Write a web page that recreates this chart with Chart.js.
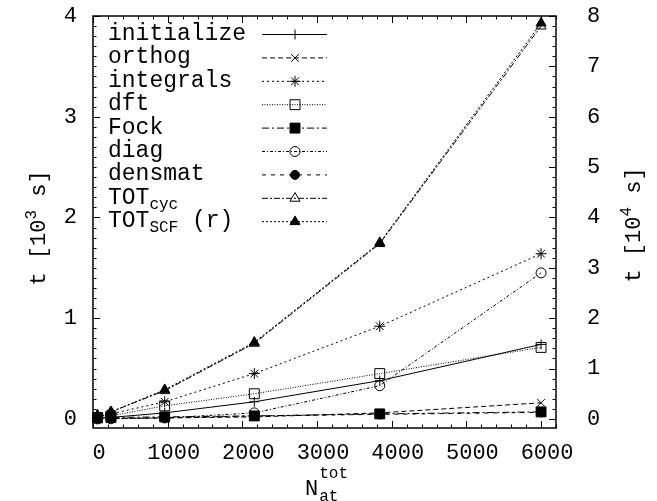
<!DOCTYPE html>
<html>
<head>
<meta charset="utf-8">
<script src="https://cdn.jsdelivr.net/npm/chart.js@4.4.1/dist/chart.umd.min.js"></script>
<style>
  html, body { margin: 0; padding: 0; background: #fff; }
  #wrap { width: 657px; height: 501px; }
</style>
</head>
<body>
<div id="wrap"><canvas id="myChart" width="657" height="501"></canvas></div>
<script>
'use strict';

// data
let atoms = [60, 240, 960, 2160, 3840, 6000];
// times in 10^3 s (left axis)
let initialize = [0.005, 0.015, 0.06, 0.17, 0.38, 0.74];
let orthog = [0.002, 0.004, 0.01, 0.02, 0.06, 0.16];
let integrals = [0.02, 0.05, 0.17, 0.45, 0.92, 1.64];
let dft = [0.01, 0.03, 0.13, 0.25, 0.45, 0.71];
let fock = [0.015, 0.015, 0.02, 0.03, 0.05, 0.07];
let diag = [0.0, 0.002, 0.01, 0.06, 0.33, 1.45];
let densmat = [0.002, 0.005, 0.01, 0.03, 0.045, 0.065];
let totCyc = [0.035, 0.07, 0.28, 0.75, 1.74, 3.90];
// TOT_SCF in 10^4 s (right axis)
let totScf = [0.07, 0.14, 0.58, 1.52, 3.50, 7.86];

let xTicks = [0, 1000, 2000, 3000, 4000, 5000, 6000];
let yTicks = [0, 1, 2, 3, 4];
let y2Ticks = [0, 1, 2, 3, 4, 5, 6, 7, 8];

const FONT = '"Liberation Mono", "DejaVu Sans Mono", monospace';

function series(vals) {
  let pts = [];
  for (let i = 0; i < atoms.length; i++) {
    pts.push({ x: atoms[i], y: vals[i] });
  }
  return pts;
}

// label, values, dash, marker, radius, filled, axis, subscript
let lines = [
  ['initialize', initialize, [], 'cross', 5, false, 'y', ''],
  ['orthog', orthog, [5, 3], 'crossRot', 5.5, false, 'y', ''],
  ['integrals', integrals, [2, 3], 'star', 5.5, false, 'y', ''],
  ['dft', dft, [1, 1.5], 'rect', 7, false, 'y', ''],
  ['Fock', fock, [7, 3, 2, 3], 'rect', 7, true, 'y', ''],
  ['diag', diag, [3, 2, 1, 2], 'circle', 5, false, 'y', ''],
  ['densmat', densmat, [4, 5], 'circle', 4.5, true, 'y', ''],
  ['TOT', totCyc, [6, 2, 2, 2], 'triangle', 5.8, false, 'y', 'cyc'],
  ['TOT', totScf, [2, 2], 'triangle', 5.8, true, 'y2', 'SCF']
];

let datasets = lines.map(function (l, i) {
  return {
    label: l[0],
    sub: l[7],
    data: series(l[1]),
    yAxisID: l[6],
    borderColor: '#000',
    borderWidth: 1,
    borderDash: l[2],
    pointStyle: l[3],
    pointRadius: l[4],
    pointHoverRadius: l[4],
    pointBorderColor: '#000',
    pointBorderWidth: 1,
    pointBackgroundColor: l[5] ? '#000' : 'rgba(0,0,0,0)',
    fill: false,
    tension: 0,
    clip: false,
    order: 20 - i
  };
});

function setTicks(list) {
  return function (scale) {
    scale.ticks = list.map(function (v) { return { value: v }; });
  };
}

function fixWidth(w) {
  return function (s) {
    s.width = w;
    s.paddingTop = 0;
    s.paddingBottom = 0;
  };
}

// inward ticks on every side
function tickMarks(ctx, scale, step, majors, side, area) {
  ctx.beginPath();
  let n = Math.round((scale.max - scale.min) / step) + 2;
  let start = Math.ceil(scale.min / step) * step;
  for (let k = 0; k < n; k++) {
    let v = start + k * step;
    if (v > scale.max + 1e-9) break;
    let isMajor = majors.some(function (m) { return Math.abs(m - v) < 1e-6; });
    let len = isMajor ? 7 : 3.5;
    let p = Math.round(scale.getPixelForValue(v)) + 0.5;
    if (side === 'bottom') {
      ctx.moveTo(p, area.bottom); ctx.lineTo(p, area.bottom - len);
      ctx.moveTo(p, area.top); ctx.lineTo(p, area.top + len);
    } else if (side === 'left') {
      ctx.moveTo(area.left, p); ctx.lineTo(area.left + len, p);
    } else {
      ctx.moveTo(area.right, p); ctx.lineTo(area.right - len, p);
    }
  }
  ctx.stroke();
}

function drawParts(ctx, parts, x, y) {
  // parts: [text, size, dy]
  let cx = x;
  for (let i = 0; i < parts.length; i++) {
    ctx.font = parts[i][1] + 'px ' + FONT;
    ctx.fillText(parts[i][0], cx, y + parts[i][2]);
    cx += ctx.measureText(parts[i][0]).width;
  }
}

function partsWidth(ctx, parts) {
  let w = 0;
  for (let i = 0; i < parts.length; i++) {
    ctx.font = parts[i][1] + 'px ' + FONT;
    w += ctx.measureText(parts[i][0]).width;
  }
  return w;
}

let framePlugin = {
  id: 'frame',
  beforeDatasetsDraw(chart) {
    let ctx = chart.ctx;
    let a = chart.chartArea;
    ctx.save();
    ctx.strokeStyle = '#000';
    ctx.lineWidth = 1;
    tickMarks(ctx, chart.scales.x, 200, xTicks, 'bottom', a);
    tickMarks(ctx, chart.scales.y, 0.1, yTicks, 'left', a);
    tickMarks(ctx, chart.scales.y2, 0.2, y2Ticks, 'right', a);
    ctx.lineWidth = 1.5;
    ctx.strokeRect(a.left, a.top, a.right - a.left, a.bottom - a.top);
    ctx.restore();
  },
  afterDraw(chart) {
    let ctx = chart.ctx;
    ctx.save();
    ctx.fillStyle = '#000';
    ctx.strokeStyle = '#000';
    ctx.textBaseline = 'middle';

    // legend
    let ds = chart.data.datasets;
    for (let i = 0; i < ds.length; i++) {
      let d = ds[i];
      let y = 34 + i * 23.4;
      let parts = [[d.label, 23, 0]];
      if (d.sub) parts.push([d.sub, 16, 7]);
      if (d.yAxisID === 'y2') parts.push([' (r)', 23, 0]);
      drawParts(ctx, parts, 108, y);

      ctx.lineWidth = 1;
      ctx.setLineDash(d.borderDash);
      ctx.beginPath();
      ctx.moveTo(262, y + 0.5);
      ctx.lineTo(327, y + 0.5);
      ctx.stroke();
      ctx.setLineDash([]);
      ctx.fillStyle = d.pointBackgroundColor;
      Chart.helpers.drawPoint(ctx, {
        pointStyle: d.pointStyle, radius: d.pointRadius, rotation: 0, borderWidth: 1
      }, 295, y + 0.5);
      ctx.fillStyle = '#000';
    }

    // axis titles
    ctx.textBaseline = 'alphabetic';
    ctx.font = '22px ' + FONT;
    let nw = ctx.measureText('N').width;
    drawParts(ctx, [['N', 22, 0]], 305, 495);
    drawParts(ctx, [['tot', 16, 0]], 305 + nw + 1, 478);
    drawParts(ctx, [['at', 16, 0]], 305 + nw + 1, 501);

    let lt = [['t [10', 22, 0], ['3', 16, -9], [' s]', 22, 0]];
    ctx.save();
    ctx.translate(45, 228);
    ctx.rotate(-Math.PI / 2);
    drawParts(ctx, lt, -partsWidth(ctx, lt) / 2, 0);
    ctx.restore();

    let rt = [['t [10', 22, 0], ['4', 16, -9], [' s]', 22, 0]];
    ctx.save();
    ctx.translate(640, 225);
    ctx.rotate(-Math.PI / 2);
    drawParts(ctx, rt, -partsWidth(ctx, rt) / 2, 0);
    ctx.restore();

    ctx.restore();
  }
};

let tickFont = { family: FONT, size: 22 };

let chartObject = {
  type: 'line',
  data: { datasets: datasets },
  options: {
    responsive: false,
    animation: false,
    events: [],
    layout: { padding: { top: 16, left: 0, right: 0, bottom: 0 } },
    plugins: { legend: { display: false }, tooltip: { enabled: false } },
    scales: {
      x: {
        type: 'linear',
        min: 0,
        max: 6200,
        afterBuildTicks: setTicks(xTicks),
        afterFit: function (s) { s.height = 73; s.paddingLeft = 0; s.paddingRight = 0; },
        grid: { display: false, drawTicks: false },
        border: { display: false },
        ticks: {
          font: tickFont, color: '#000', padding: 12, labelOffset: 6,
          autoSkip: false, maxRotation: 0,
          callback: function (v) { return String(v); }
        }
      },
      y: {
        type: 'linear',
        position: 'left',
        min: -0.09,
        max: 4,
        afterBuildTicks: setTicks(yTicks),
        afterFit: fixWidth(93),
        grid: { display: false, drawTicks: false },
        border: { display: false },
        ticks: { font: tickFont, color: '#000', padding: 16, callback: function (v) { return String(v); } }
      },
      y2: {
        type: 'linear',
        position: 'right',
        min: -0.18,
        max: 8,
        afterBuildTicks: setTicks(y2Ticks),
        afterFit: fixWidth(101),
        grid: { display: false, drawTicks: false },
        border: { display: false },
        ticks: { font: tickFont, color: '#000', padding: 31, callback: function (v) { return String(v); } }
      }
    }
  },
  plugins: [framePlugin]
};

let ctx = document.getElementById('myChart').getContext('2d');
let myChart = new Chart(ctx, chartObject);
</script>
</body>
</html>
